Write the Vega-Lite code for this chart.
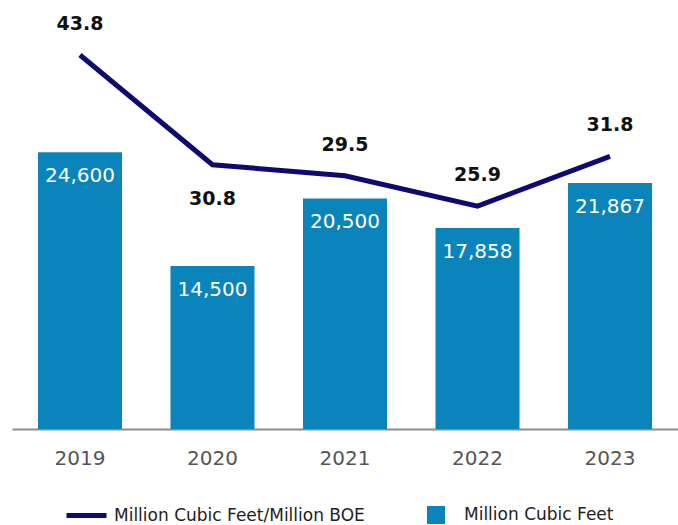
{
  "$schema": "https://vega.github.io/schema/vega-lite/v6.json",
  "width": 666,
  "height": 429,
  "autosize": {"type": "none"},
  "padding": {"left": 12, "top": 0, "right": 0, "bottom": 96},
  "config": {"view": {"stroke": null}, "font": "DejaVu Sans"},
  "data": {
    "values": [
      {"year": "2019", "mcf": 24600, "ratio": 43.8},
      {"year": "2020", "mcf": 14500, "ratio": 30.8},
      {"year": "2021", "mcf": 20500, "ratio": 29.5},
      {"year": "2022", "mcf": 17858, "ratio": 25.9},
      {"year": "2023", "mcf": 21867, "ratio": 31.8}
    ]
  },
  "encoding": {
    "x": {
      "field": "year",
      "type": "ordinal",
      "scale": {"paddingInner": 0.366, "paddingOuter": 0.196},
      "axis": {
        "title": null,
        "labelAngle": 0,
        "ticks": false,
        "domainColor": "#8c8c8c",
        "domainWidth": 2,
        "labelFontSize": 20,
        "labelColor": "#555555",
        "labelPadding": 19,
        "labelFont": "DejaVu Sans"
      }
    }
  },
  "layer": [
    {
      "encoding": {
        "y": {"field": "mcf", "type": "quantitative", "scale": {"domain": [0, 38137]}, "axis": null}
      },
      "layer": [
        {
          "mark": {"type": "bar"},
          "encoding": {
            "fill": {
              "datum": "Million Cubic Feet",
              "scale": {"range": ["#0a84bb"]},
              "legend": {
                "title": null,
                "orient": "none",
                "legendX": 415,
                "legendY": 506,
                "symbolType": "square",
                "symbolSize": 324,
                "symbolStrokeWidth": 0,
                "labelFontSize": 17,
                "labelColor": "#222222",
                "labelFont": "DejaVu Sans",
                "labelOffset": 19,
                "labelLimit": 400,
                "padding": 0
              }
            }
          }
        },
        {
          "mark": {"type": "text", "baseline": "middle", "dy": 24, "color": "white", "fontSize": 20},
          "encoding": {"text": {"field": "mcf", "type": "quantitative", "format": ","}}
        }
      ]
    },
    {
      "encoding": {
        "y": {"field": "ratio", "type": "quantitative", "scale": {"domain": [-0.51, 50.32]}, "axis": null}
      },
      "layer": [
        {
          "mark": {"type": "line", "strokeWidth": 5},
          "encoding": {
            "stroke": {
              "datum": "Million Cubic Feet/Million BOE",
              "scale": {"range": ["#0e0a70"]},
              "legend": {
                "title": null,
                "orient": "none",
                "legendX": 52,
                "legendY": 493,
                "symbolType": "stroke",
                "symbolSize": 1600,
                "symbolStrokeWidth": 5,
                "labelFontSize": 17,
                "labelColor": "#222222",
                "labelFont": "DejaVu Sans",
                "labelOffset": 5,
                "labelLimit": 400,
                "padding": 0
              }
            }
          }
        },
        {
          "transform": [{"filter": {"not": {"field": "year", "equal": "2020"}}}],
          "mark": {"type": "text", "baseline": "middle", "dy": -31, "color": "#111111", "fontSize": 19, "fontWeight": "bold"},
          "encoding": {"text": {"field": "ratio", "type": "quantitative", "format": ".1f"}}
        },
        {
          "transform": [{"filter": {"field": "year", "equal": "2020"}}],
          "mark": {"type": "text", "baseline": "middle", "dy": 34, "color": "#111111", "fontSize": 19, "fontWeight": "bold"},
          "encoding": {"text": {"field": "ratio", "type": "quantitative", "format": ".1f"}}
        }
      ]
    }
  ],
  "resolve": {"scale": {"y": "independent"}}
}
